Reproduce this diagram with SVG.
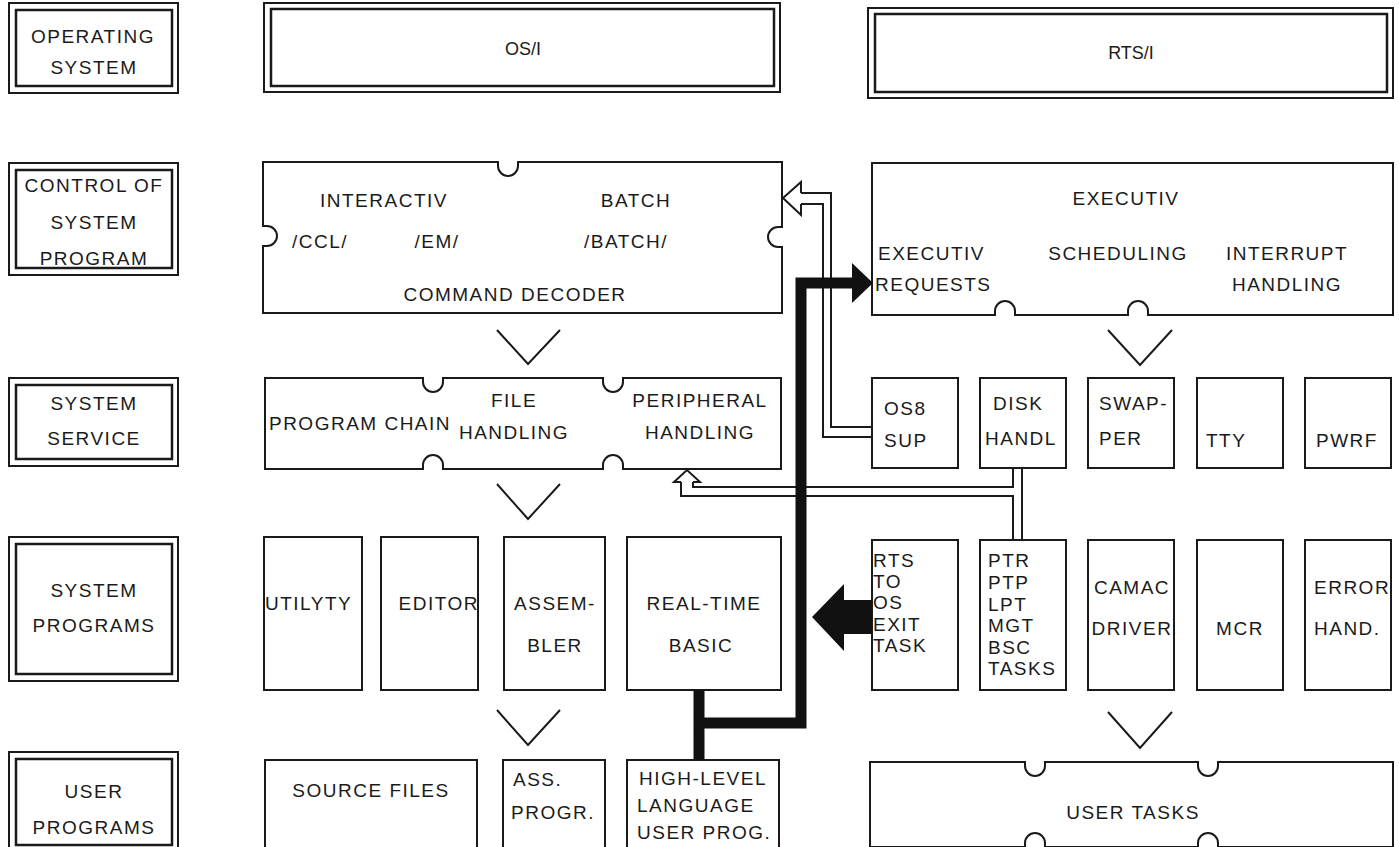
<svg xmlns="http://www.w3.org/2000/svg" width="1399" height="847" viewBox="0 0 1399 847">
<style>
.t{font-family:"Liberation Sans",Arial,sans-serif;font-size:19px;letter-spacing:1.5px;fill:#1a1a1a}
.m{text-anchor:middle}
.e{text-anchor:end}
.b{fill:#fff;stroke:#1a1a1a;stroke-width:2}
.o{fill:none;stroke:#1a1a1a;stroke-width:2}
.i{fill:none;stroke:#1a1a1a;stroke-width:2.5}
.c{fill:none;stroke:#1a1a1a;stroke-width:2}
.k{fill:none;stroke:#111;stroke-width:11;stroke-linejoin:miter}
</style>
<rect width="1399" height="847" fill="#fff"/>

<!-- level labels -->
<g id="lbl-os"><rect class="o" x="9" y="3" width="169" height="90"/><rect class="i" x="16" y="10" width="156" height="76"/>
<text class="t m" x="93" y="43">OPERATING</text><text class="t m" x="94" y="74">SYSTEM</text></g>
<g id="lbl-control"><rect class="o" x="9" y="163" width="169" height="112"/><rect class="i" x="16" y="170" width="156" height="98"/>
<text class="t m" x="94" y="192">CONTROL OF</text><text class="t m" x="94" y="229">SYSTEM</text><text class="t m" x="94" y="265">PROGRAM</text></g>
<g id="lbl-service"><rect class="o" x="9" y="378" width="169" height="88"/><rect class="i" x="16" y="385" width="156" height="74"/>
<text class="t m" x="94" y="410">SYSTEM</text><text class="t m" x="94" y="445">SERVICE</text></g>
<g id="lbl-sysprog"><rect class="o" x="9" y="537" width="169" height="144"/><rect class="i" x="16" y="544" width="156" height="130"/>
<text class="t m" x="94" y="597">SYSTEM</text><text class="t m" x="94" y="632">PROGRAMS</text></g>
<g id="lbl-userprog"><rect class="o" x="9" y="752" width="169" height="100"/><rect class="i" x="16" y="759" width="156" height="86"/>
<text class="t m" x="94" y="798">USER</text><text class="t m" x="94" y="834">PROGRAMS</text></g>

<!-- row 1 -->
<g id="osi"><rect class="o" x="264" y="3" width="516" height="89"/><rect class="i" x="271" y="9" width="503" height="77"/>
<text class="t m" x="523" y="55" style="font-size:18px;letter-spacing:0">OS/I</text></g>
<g id="rtsi"><rect class="o" x="868" y="8" width="525" height="90"/><rect class="i" x="875" y="14" width="512" height="78"/>
<text class="t m" x="1131" y="59" style="font-size:18px;letter-spacing:0">RTS/I</text></g>

<!-- row 2 -->
<g id="cmd"><path class="b" d="M263,162 H498 V166 A10,10 0 0 0 518,166 V162 H782 V227 H778 A10,10 0 0 0 778,247 H782 V313 H263 V246 H267 A10,10 0 0 0 267,226 H263 Z"/>
<text class="t m" x="384" y="207">INTERACTIV</text><text class="t m" x="636" y="207">BATCH</text>
<text class="t m" x="320" y="248">/CCL/</text><text class="t m" x="437" y="248">/EM/</text><text class="t m" x="626" y="248">/BATCH/</text>
<text class="t m" x="515" y="301">COMMAND DECODER</text></g>
<g id="exec"><path class="b" d="M872,163 H1393 V315 H1148 V311 A10,10 0 0 0 1128,311 V315 H1015 V311 A10,10 0 0 0 995,311 V315 H872 Z"/>
<text class="t m" x="1126" y="205">EXECUTIV</text>
<text class="t" x="878" y="260">EXECUTIV</text><text class="t" x="875" y="291">REQUESTS</text>
<text class="t m" x="1118" y="260">SCHEDULING</text>
<text class="t m" x="1287" y="260">INTERRUPT</text><text class="t m" x="1287" y="291">HANDLING</text></g>

<!-- row 3 -->
<g id="service"><path class="b" d="M265,378 H423 V382 A10,10 0 0 0 443,382 V378 H603 V382 A10,10 0 0 0 623,382 V378 H781 V469 H623 V465 A10,10 0 0 0 603,465 V469 H443 V465 A10,10 0 0 0 423,465 V469 H265 Z"/>
<text class="t m" x="360" y="430">PROGRAM CHAIN</text>
<text class="t m" x="514" y="407">FILE</text><text class="t m" x="514" y="439">HANDLING</text>
<text class="t m" x="700" y="407">PERIPHERAL</text><text class="t m" x="700" y="439">HANDLING</text></g>
<g id="os8"><rect class="b" x="872" y="378" width="86" height="90"/><text class="t" x="884" y="415">OS8</text><text class="t" x="884" y="447">SUP</text></g>
<g id="disk"><rect class="b" x="980" y="378" width="86" height="90"/><text class="t" x="993" y="410">DISK</text><text class="t" x="985" y="445">HANDL</text></g>
<g id="swap"><rect class="b" x="1088" y="378" width="86" height="90"/><text class="t" x="1099" y="410">SWAP-</text><text class="t" x="1099" y="445">PER</text></g>
<g id="tty"><rect class="b" x="1197" y="378" width="86" height="90"/><text class="t" x="1206" y="447">TTY</text></g>
<g id="pwrf"><rect class="b" x="1305" y="378" width="86" height="90"/><text class="t" x="1316" y="447">PWRF</text></g>

<!-- row 4 -->
<g id="utility"><rect class="b" x="264" y="537" width="98" height="153"/><text class="t" x="265" y="610">UTILYTY</text></g>
<g id="editor"><rect class="b" x="381" y="537" width="97" height="153"/><text class="t e" x="479" y="610">EDITOR</text></g>
<g id="assembler"><rect class="b" x="504" y="537" width="101" height="153"/><text class="t m" x="555" y="610">ASSEM-</text><text class="t m" x="555" y="652">BLER</text></g>
<g id="rtbasic"><rect class="b" x="627" y="537" width="154" height="153"/><text class="t m" x="704" y="610">REAL-TIME</text><text class="t m" x="701" y="652">BASIC</text></g>
<g id="rtsto"><rect class="b" x="872" y="540" width="86" height="150"/>
<text class="t" x="873" y="567">RTS</text><text class="t" x="873" y="588">TO</text><text class="t" x="873" y="609">OS</text><text class="t" x="873" y="631">EXIT</text><text class="t" x="873" y="652">TASK</text></g>
<g id="ptr"><rect class="b" x="980" y="540" width="86" height="150"/>
<text class="t" x="988" y="567">PTR</text><text class="t" x="988" y="589">PTP</text><text class="t" x="988" y="611">LPT</text><text class="t" x="988" y="632">MGT</text><text class="t" x="988" y="654">BSC</text><text class="t" x="988" y="675">TASKS</text></g>
<g id="camac"><rect class="b" x="1088" y="540" width="86" height="150"/><text class="t m" x="1132" y="594">CAMAC</text><text class="t m" x="1132" y="635">DRIVER</text></g>
<g id="mcr"><rect class="b" x="1197" y="540" width="86" height="150"/><text class="t m" x="1240" y="635">MCR</text></g>
<g id="error"><rect class="b" x="1305" y="540" width="86" height="150"/><text class="t" x="1314" y="594">ERROR</text><text class="t" x="1314" y="635">HAND.</text></g>

<!-- row 5 -->
<g id="source"><rect class="b" x="265" y="760" width="212" height="95"/><text class="t m" x="371" y="797">SOURCE FILES</text></g>
<g id="assprog"><rect class="b" x="503" y="760" width="102" height="95"/><text class="t" x="513" y="786">ASS.</text><text class="t" x="511" y="819">PROGR.</text></g>
<g id="hll"><rect class="b" x="627" y="760" width="152" height="95"/><text class="t" x="639" y="785">HIGH-LEVEL</text><text class="t" x="637" y="812">LANGUAGE</text><text class="t" x="637" y="839">USER PROG.</text></g>
<g id="usertasks"><path class="b" d="M870,762 H1025 V766 A10,10 0 0 0 1045,766 V762 H1198 V766 A10,10 0 0 0 1218,766 V762 H1393 V847 H1218 V843 A10,10 0 0 0 1198,843 V847 H1045 V843 A10,10 0 0 0 1025,843 V847 H870 Z"/>
<text class="t m" x="1133" y="819">USER TASKS</text></g>

<!-- connectors -->
<g id="connectors">
<polyline class="c" points="497,330 528,364 560,330"/>
<polyline class="c" points="1108,330 1140,365 1172,330"/>
<polyline class="c" points="497,484 528,519 560,484"/>
<polyline class="c" points="497,710 528,745 560,710"/>
<polyline class="c" points="1108,712 1140,748 1172,712"/>

<path class="c" d="M801,193 V182 L783,198 L801,215 V204"/>
<path class="c" d="M801,193 H831 V427 H872"/>
<path class="c" d="M801,204 H823 V437 H872"/>

<path class="c" d="M681,482 H674 L687,470 L700,482 H693"/>
<path class="c" d="M693,482 V487 H1013 V468"/>
<path class="c" d="M681,482 V496 H1013 V540"/>
<path class="c" d="M1022,468 V540"/>

<path class="k" d="M699,690 V760"/>
<path class="k" d="M694,723 H801 V283 H855"/>
<polygon fill="#111" points="852,263 873,283 852,303"/>
<polygon fill="#111" points="872,600 844,600 844,584 812,617 844,651 844,634 872,634"/>
</g>
</svg>
